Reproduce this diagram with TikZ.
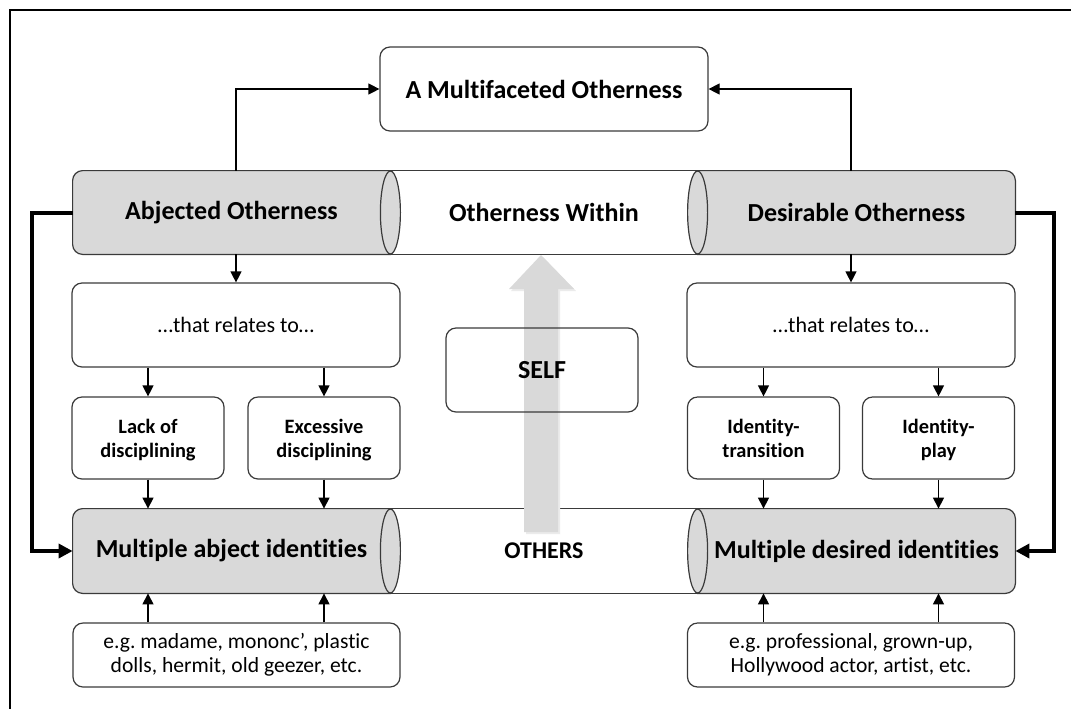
\documentclass[tikz,border=0pt]{standalone}
\usepackage{fontspec}
\setmainfont{Carlito}[RawFeature=-liga]
\usepackage{xcolor}
\usepackage{tikz}
\usetikzlibrary{arrows.meta,positioning,backgrounds}
\definecolor{boxgrey}{HTML}{D9D9D9}
\definecolor{edgegrey}{HTML}{3A3A3A}
\frenchspacing

\begin{document}
\begin{tikzpicture}[x=0.5pt, y=-0.5pt,
    >={Triangle[length=5.5pt,width=5.5pt]},
    box/.style={rectangle, draw=edgegrey, line width=0.6pt, rounded corners=5pt, align=center, inner sep=1pt},
    head/.style={font=\bfseries\fontsize{13}{15.6}\selectfont},
    bodytext/.style={rectangle, inner sep=0pt, minimum width=158.5pt, minimum height=41.5pt, align=center, head},
    greybody/.style={draw=edgegrey, line width=0.6pt, fill=boxgrey},
    band/.style={draw=edgegrey, line width=0.6pt, fill=white},
    smallbox/.style={box, minimum width=76pt, minimum height=41pt, text depth=0pt, font=\bfseries\fontsize{10.2}{12}\selectfont},
    relbox/.style={box, minimum width=164pt, minimum height=42pt, font=\fontsize{11}{13}\selectfont},
    exbox/.style={box, minimum width=163.5pt, minimum height=32pt, font=\fontsize{10.8}{12}\selectfont},
    arrow/.style={->, line width=0.6pt},
    bigarrow/.style={-{Triangle[length=7pt,width=7pt]}, line width=2pt}
]
\clip (0,0) rectangle (1071,708);
\draw[line width=1pt] (10,10) rectangle (1100,760);

\node[box, head, minimum width=164pt, minimum height=42pt] (multi) at (544,89) {A Multifaceted Otherness};

\node[bodytext] (abj) at (231.5,212.5) {Abjected Otherness};
\node[bodytext, minimum width=154pt] (within) at (544,212.5) {Otherness Within};
\node[bodytext] (des) at (856.5,212.5) {Desirable Otherness};

\node[bodytext, minimum height=42pt] (mabj) at (231.5,551) {Multiple abject identities};
\node[bodytext, minimum width=154pt, minimum height=42pt, font=\bfseries\fontsize{12}{14}\selectfont] (others) at (544,551) {OTHERS};
\node[bodytext, minimum height=42pt] (mdes) at (856.5,551) {Multiple desired identities};

\node[relbox] (relL) at (236,325) {…that relates to…};
\node[relbox] (relR) at (851,325) {…that relates to…};
\node[smallbox] (lack) at (148,438) {Lack of\\disciplining};
\node[smallbox] (excess) at (324,438) {Excessive\\disciplining};
\node[smallbox] (trans) at (763.5,438) {Identity-\\transition};
\node[smallbox] (play) at (938.5,438) {Identity-\\play};
\node[box, minimum width=96pt, minimum height=42pt, font=\bfseries\fontsize{13}{15.6}\selectfont] (self) at (542,370) {SELF};
\node[exbox] (exL) at (236.5,655) {e.g. madame, mononc’, plastic\\dolls, hermit, old geezer, etc.};
\node[exbox] (exR) at (851,655) {e.g. professional, grown-up,\\Hollywood actor, artist, etc.};

\begin{scope}[on background layer]
\draw[band] (within.north west) rectangle (within.south east);
\draw[band] (others.north west) rectangle (others.south east);
\draw[greybody] (abj.north east) -- ([xshift=5pt]abj.north west) arc[start angle=90, end angle=180, radius=5pt] -- ([yshift=5pt]abj.south west) arc[start angle=180, end angle=270, radius=5pt] -- (abj.south east) -- cycle;
\draw[greybody] (mabj.north east) -- ([xshift=5pt]mabj.north west) arc[start angle=90, end angle=180, radius=5pt] -- ([yshift=5pt]mabj.south west) arc[start angle=180, end angle=270, radius=5pt] -- (mabj.south east) -- cycle;
\draw[greybody] (des.north west) -- ([xshift=-5pt]des.north east) arc[start angle=90, end angle=0, radius=5pt] -- ([yshift=5pt]des.south east) arc[start angle=0, end angle=-90, radius=5pt] -- (des.south west) -- cycle;
\draw[greybody] (mdes.north west) -- ([xshift=-5pt]mdes.north east) arc[start angle=90, end angle=0, radius=5pt] -- ([yshift=5pt]mdes.south east) arc[start angle=0, end angle=-90, radius=5pt] -- (mdes.south west) -- cycle;
\draw[greybody] (abj.east) ellipse[x radius=5pt, y radius=20.75pt];
\draw[greybody] (des.west) ellipse[x radius=5pt, y radius=20.75pt];
\draw[greybody] (mabj.east) ellipse[x radius=5pt, y radius=21pt];
\draw[greybody] (mdes.west) ellipse[x radius=5pt, y radius=21pt];
\fill[black!8] (526,534) -- (526,291) -- (511,291) -- (543,257) -- (576,291) -- (560,291) -- (560,534) -- cycle;
\fill[boxgrey] (524,532) -- (524,289) -- (509,289) -- (541,255) -- (574,289) -- (558,289) -- (558,532) -- cycle;
\end{scope}

\draw[arrow] (abj.north -| relL.north) |- (multi.west);
\draw[arrow] (des.north -| relR.north) |- (multi.east);
\draw[arrow] (abj.south -| relL.north) -- (relL.north);
\draw[arrow] (des.south -| relR.north) -- (relR.north);
\draw[arrow] (relL.south -| lack.north) -- (lack.north);
\draw[arrow] (relL.south -| excess.north) -- (excess.north);
\draw[arrow] (relR.south -| trans.north) -- (trans.north);
\draw[arrow] (relR.south -| play.north) -- (play.north);
\draw[arrow] (lack.south) -- (lack.south |- mabj.north);
\draw[arrow] (excess.south) -- (excess.south |- mabj.north);
\draw[arrow] (trans.south) -- (trans.south |- mdes.north);
\draw[arrow] (play.south) -- (play.south |- mdes.north);
\draw[arrow] (lack.south |- exL.north) -- (lack.south |- mabj.south);
\draw[arrow] (excess.south |- exL.north) -- (excess.south |- mabj.south);
\draw[arrow] (trans.south |- exR.north) -- (trans.south |- mdes.south);
\draw[arrow] (play.south |- exR.north) -- (play.south |- mdes.south);
\draw[bigarrow] (abj.west) -- ++(-41,0) |- (mabj.west);
\draw[bigarrow] (des.east) -- ++(39,0) |- (mdes.east);
\end{tikzpicture}
\end{document}
